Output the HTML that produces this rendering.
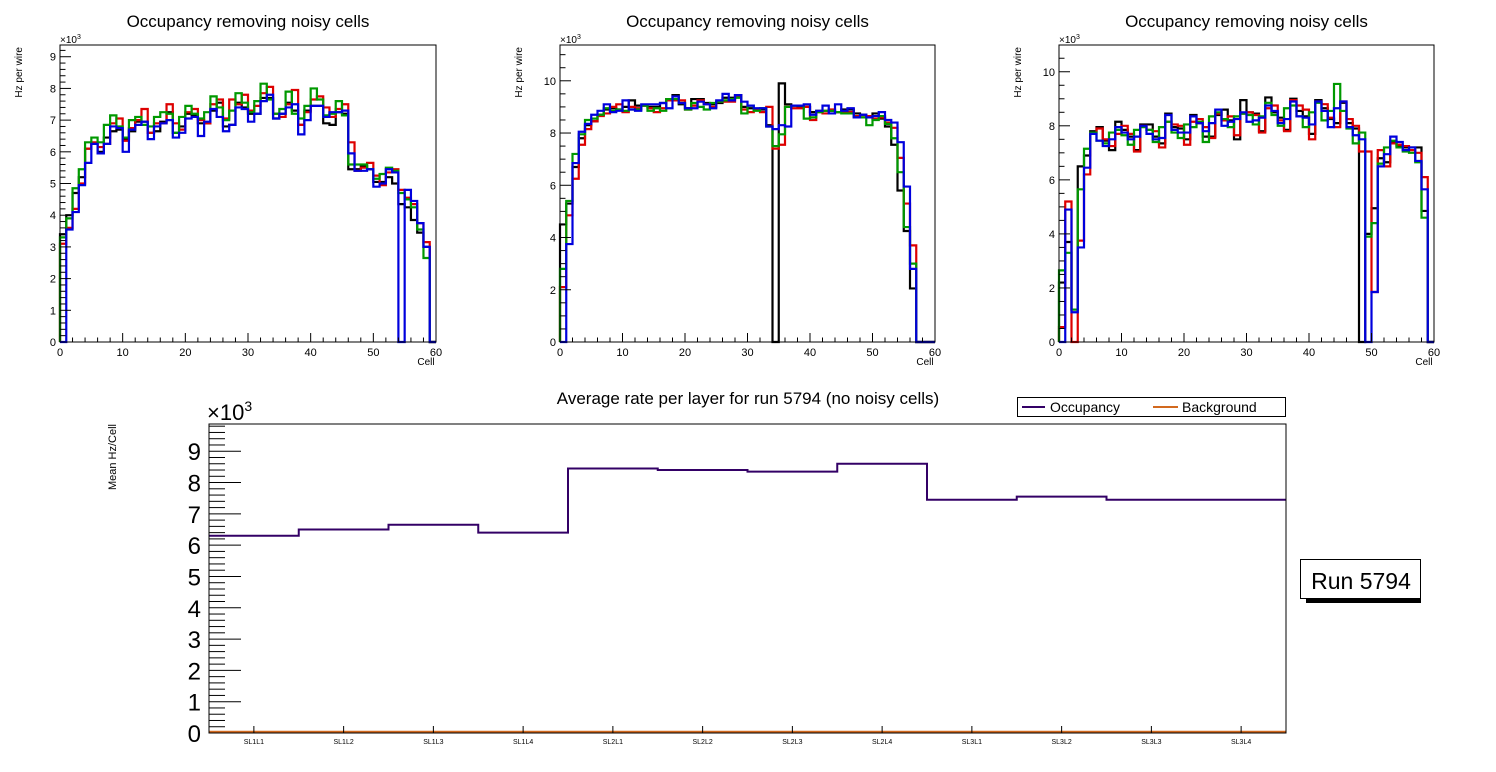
<!DOCTYPE html>
<html><head><meta charset="utf-8">
<style>
html,body{margin:0;padding:0;background:#fff;}
svg{display:block;font-family:"Liberation Sans",sans-serif;}
</style></head>
<body>
<svg id="c" width="1496" height="772" viewBox="0 0 1496 772" xmlns="http://www.w3.org/2000/svg"></svg>
<script>
// ---- Data ----
const binCount = 60;
const p1Black = [3.4,4.0,4.7,5.2,6.1,6.25,6.0,6.45,6.65,6.7,6.4,6.65,6.95,6.95,6.6,6.65,6.95,7.25,6.6,6.8,7.2,7.15,6.9,6.9,7.3,7.55,6.8,6.85,7.55,7.4,7.2,7.2,7.7,7.7,7.05,7.2,7.55,7.3,6.85,7.3,7.45,7.45,6.9,6.85,7.25,7.2,5.45,5.45,5.55,5.45,5.05,5.05,5.2,5.0,4.35,4.25,3.85,3.45,3.0,0];
const p1Red = [3.1,3.6,4.2,5.0,6.1,6.3,6.15,6.25,6.9,7.05,6.35,6.75,7.0,7.35,6.6,6.9,6.9,7.5,6.9,6.7,7.25,7.35,7.0,6.9,7.5,7.65,7.05,7.65,7.5,7.8,7.3,7.45,7.85,8.05,7.2,7.1,7.5,7.95,6.85,7.25,7.65,7.75,7.4,7.1,7.35,7.5,6.3,5.4,5.5,5.65,5.25,4.95,5.35,5.45,4.8,4.55,4.35,3.75,3.15,0];
const p1Green = [3.3,3.9,4.85,5.45,6.3,6.45,6.3,6.85,7.15,6.8,6.45,7.0,7.1,6.85,6.8,7.1,7.25,7.2,6.6,7.1,7.45,7.2,7.05,7.25,7.75,7.4,7.0,7.3,7.85,7.55,7.25,7.6,8.15,7.65,7.2,7.35,7.9,7.2,7.05,7.45,8.0,7.65,7.15,7.2,7.6,7.15,5.6,5.6,5.6,5.45,5.15,5.3,5.5,5.4,4.7,4.5,4.25,3.55,2.65,0];
const p1Blue = [0,3.55,4.1,4.95,5.65,6.25,5.95,6.25,6.8,6.75,6.0,6.7,6.85,6.95,6.4,6.8,6.9,7.0,6.45,6.6,7.05,7.1,6.5,6.95,7.35,7.1,6.65,6.85,7.4,7.35,6.95,7.2,7.6,7.8,7.05,7.2,7.4,7.5,6.55,7.0,7.45,7.45,7.1,7.25,7.25,7.3,5.95,5.4,5.4,5.45,4.9,5.0,5.45,5.35,0,4.8,4.45,3.75,3.0,0];

const p2Black = [4.5,5.3,6.7,7.8,8.3,8.45,8.7,8.9,8.95,8.9,9.0,9.25,9.05,9.05,9.0,9.0,9.15,9.3,9.45,9.1,8.95,9.3,9.3,9.15,9.1,9.15,9.35,9.35,9.45,9.0,8.95,8.9,8.9,8.3,0,9.9,9.1,9.05,9.0,9.0,8.8,8.85,8.85,8.85,8.8,8.9,8.9,8.75,8.7,8.6,8.75,8.55,8.25,7.55,5.8,4.25,2.05,0,0,0];
const p2Red = [2.1,4.85,6.25,7.55,8.15,8.45,8.65,8.75,9.0,9.1,8.8,9.0,8.95,9.05,8.95,8.8,8.95,9.25,9.25,9.25,8.9,9.05,9.25,9.1,9.0,9.2,9.2,9.2,9.4,8.9,8.8,8.9,8.8,9.0,7.4,7.55,9.0,8.95,8.95,9.0,8.5,8.8,8.75,8.9,8.8,8.8,8.8,8.65,8.6,8.65,8.55,8.6,8.4,8.2,7.05,5.3,3.7,0,0,0];
const p2Green = [2.8,5.4,7.2,7.95,8.5,8.55,8.7,8.95,8.85,8.9,8.85,8.9,8.9,9.05,8.85,8.95,8.85,9.3,9.3,9.15,8.9,9.15,9.0,8.9,9.15,9.2,9.25,9.3,9.35,8.75,9.05,8.85,8.95,8.25,7.5,7.95,9.0,9.05,9.05,8.55,8.6,8.8,8.85,8.85,8.8,8.75,8.75,8.6,8.6,8.3,8.5,8.65,8.35,7.8,6.5,4.4,3.0,0,0,0];
const p2Blue = [0,3.75,6.85,8.05,8.35,8.7,8.85,9.1,8.8,8.85,9.25,8.9,8.85,9.1,9.1,9.1,9.15,8.95,9.4,9.15,8.95,8.95,9.2,9.1,8.95,9.25,9.5,9.25,9.45,9.2,9.05,8.95,8.95,8.25,8.15,8.3,8.25,9.05,9.05,9.1,8.7,8.85,9.05,8.75,9.1,8.85,8.95,8.6,8.7,8.6,8.65,8.8,8.5,8.4,7.65,5.95,2.8,0,0,0];

const p3Black = [2.2,3.7,1.2,6.5,6.9,7.8,7.95,7.45,7.1,8.15,7.85,7.6,7.1,8.05,8.05,7.6,7.35,8.45,7.95,7.9,7.5,8.4,8.1,7.6,7.6,8.4,8.6,8.2,7.5,8.95,8.5,8.45,7.8,9.05,8.5,8.3,7.85,9.0,8.55,8.35,7.7,8.95,8.65,8.25,8.1,8.85,8.1,7.9,0,4.0,4.95,6.8,6.65,7.4,7.25,7.2,7.2,7.2,4.85,0];
const p3Red = [0.55,5.2,0,3.75,6.2,7.75,7.9,7.5,7.25,7.7,8.0,7.7,7.05,8.0,7.85,7.8,7.2,8.15,8.05,8.0,7.3,8.15,8.25,7.95,7.55,8.45,8.2,8.35,7.65,8.45,8.5,8.4,7.75,8.65,8.75,8.2,7.8,8.95,8.75,8.6,7.5,8.9,8.8,8.3,7.95,8.9,8.25,8.0,7.05,7.05,1.85,7.1,6.5,7.35,7.3,7.25,7.1,7.0,6.1,0];
const p3Green = [2.65,3.3,1.2,5.65,7.15,7.75,7.45,7.35,7.75,7.85,7.65,7.3,7.85,7.95,7.85,7.4,7.95,8.15,7.75,7.55,8.05,7.95,8.15,7.4,8.35,8.5,8.25,7.95,8.35,8.45,8.4,8.05,8.35,8.85,8.4,8.0,8.65,8.75,8.35,7.95,8.5,8.85,8.2,8.55,9.55,8.55,7.9,7.35,7.75,3.9,4.4,6.6,7.2,7.45,7.2,7.05,7.0,6.65,4.6,0];
const p3Blue = [0,4.9,1.1,3.5,6.45,7.7,7.45,7.25,7.5,7.95,7.75,7.5,7.6,8.0,7.7,7.5,7.55,8.4,7.85,7.75,7.75,8.35,8.1,7.8,8.1,8.6,8.0,8.15,8.25,8.5,8.15,8.2,8.3,8.75,8.55,8.1,8.25,8.9,8.35,8.3,8.05,8.9,8.55,7.95,8.65,8.9,7.95,7.65,7.5,0,1.85,6.5,6.95,7.6,7.4,7.1,7.2,6.7,5.65,0];

const layerLabels = ["SL1L1","SL1L2","SL1L3","SL1L4","SL2L1","SL2L2","SL2L3","SL2L4","SL3L1","SL3L2","SL3L3","SL3L4"];
const occupancy = [6.3,6.5,6.65,6.4,8.45,8.4,8.35,8.6,7.45,7.55,7.45,7.45];
const background = [0.03,0.03,0.03,0.03,0.03,0.03,0.03,0.03,0.03,0.03,0.03,0.03];

const p1Ticks = [0,1,2,3,4,5,6,7,8,9];
const p23Ticks = [0,2,4,6,8,10];
const xTicks = [0,10,20,30,40,50,60];
const bottomTicks = [0,1,2,3,4,5,6,7,8,9];

// ---- Drawing ----
const svg = document.getElementById('c');
const NS = 'http://www.w3.org/2000/svg';
function mk(tag, attrs, parent){
  const e = document.createElementNS(NS, tag);
  for (const k in attrs) e.setAttribute(k, attrs[k]);
  (parent||svg).appendChild(e);
  return e;
}
function txt(s, x, y, size, anchor, parent){
  const t = mk('text', {x:x, y:y, 'font-size':size, 'text-anchor':anchor||'start', fill:'#000'}, parent);
  t.textContent = s;
  return t;
}

function histPath(vals, xs, ys){
  let d = 'M' + xs(0) + ' ' + ys(0);
  for (let i=0;i<vals.length;i++){
    d += ' L' + xs(i) + ' ' + ys(vals[i]) + ' L' + xs(i+1) + ' ' + ys(vals[i]);
  }
  d += ' L' + xs(vals.length) + ' ' + ys(0);
  return d;
}

function panel(name, x0, x1, y0, y1, ymax, yTicks, minorStep, series){
  const g = mk('g', {});
  
  
  const xs = v => x0 + (x1-x0)*v/binCount;
  const ys = v => y1 - (y1-y0)*v/ymax;
  const title = txt('Occupancy removing noisy cells', (x0+x1)/2, 27, 17, 'middle', g);
  
  
  const colors = ['#000','#d00','#090','#00d'];
  const snames = ['black-series','red-series','green-series','blue-series'];
  series.forEach((s, k) => {
    const p = mk('path', {d: histPath(s, xs, ys), fill:'none', stroke: colors[k], 'stroke-width':2.2}, g);
    
    
  });
  const fr = mk('rect', {x:x0, y:y0, width:x1-x0, height:y1-y0, fill:'none', stroke:'#000', 'stroke-width':1}, g);
  
  
  for (let v=0; v<=ymax+1e-9; v+=minorStep){
    const major = yTicks.some(t => Math.abs(t-v)<1e-6);
    mk('line', {x1:x0, x2:x0+(major?11:5.5), y1:ys(v), y2:ys(v), stroke:'#000', 'stroke-width':1}, g);
  }
  yTicks.forEach(t => {
    const l = txt(String(t), x0-4, ys(t)+4, 11, 'end', g);
    
    
  });
  for (let v=0; v<=60; v+=2){
    const major = v%10===0;
    mk('line', {x1:xs(v), x2:xs(v), y1:y1, y2:y1-(major?9:4.5), stroke:'#000', 'stroke-width':1}, g);
  }
  xTicks.forEach(t => {
    const l = txt(String(t), xs(t), y1+14, 11, 'middle', g);
    
    
  });
  const xl = txt('Cell', x1-10, y1+23, 10, 'middle', g);
  
  
  const yl = txt('Hz per wire', 0, 0, 10, 'end', g);
  yl.setAttribute('transform', 'translate(' + (x0-38) + ',' + (y0+2) + ') rotate(-90)');
  
  
  const ex = mk('text', {x:x0, y:y0-2, 'font-size':10, fill:'#000'}, g);
  ex.textContent = '\u00d710';
  const sup = mk('tspan', {dy:-4, 'font-size':7}, ex);
  sup.textContent = '3';
  
  
}

panel('occupancy-panel-1', 60, 436, 45, 342, 9.37, p1Ticks, 0.2, [p1Black,p1Red,p1Green,p1Blue]);
panel('occupancy-panel-2', 560, 935, 45, 342, 11.37, p23Ticks, 0.5, [p2Black,p2Red,p2Green,p2Blue]);
panel('occupancy-panel-3', 1059, 1434, 45, 342, 10.99, p23Ticks, 0.5, [p3Black,p3Red,p3Green,p3Blue]);

// ---- Bottom chart ----
(function(){
  const x0=209, x1=1286, y0=424, y1=733, ymax=9.87;
  const n = layerLabels.length;
  const g = mk('g', {});
  
  
  const xs = i => x0 + (x1-x0)*i/n;
  const ys = v => y1 - (y1-y0)*v/ymax;
  const t = txt('Average rate per layer for run 5794 (no noisy cells)', 748, 404, 17, 'middle', g);
  
  
  function step(vals){
    let d = 'M' + xs(0) + ' ' + ys(vals[0]);
    for (let i=0;i<vals.length;i++){
      d += ' L' + xs(i) + ' ' + ys(vals[i]) + ' L' + xs(i+1) + ' ' + ys(vals[i]);
    }
    return d;
  }
  const bg = mk('path', {d: step(background), fill:'none', stroke:'#d2691e', 'stroke-width':2.5}, g);
  
  
  const oc = mk('path', {d: step(occupancy), fill:'none', stroke:'#330066', 'stroke-width':2}, g);
  
  
  const fr = mk('rect', {x:x0, y:y0, width:x1-x0, height:y1-y0, fill:'none', stroke:'#000', 'stroke-width':1}, g);
  
  
  for (let v=0; v<=ymax+1e-9; v+=0.2){
    const major = Math.abs(v-Math.round(v))<1e-6;
    mk('line', {x1:x0, x2:x0+(major?32:16), y1:ys(v), y2:ys(v), stroke:'#000', 'stroke-width':1}, g);
  }
  bottomTicks.forEach(v => {
    const l = txt(String(v), x0-8, ys(v)+9, 24, 'end', g);
    
    
  });
  layerLabels.forEach((s,i) => {
    const cx = (xs(i)+xs(i+1))/2;
    mk('line', {x1:cx, x2:cx, y1:y1, y2:y1-7, stroke:'#000', 'stroke-width':1}, g);
    const l = txt(s, cx, y1+11, 7, 'middle', g);
    
    
  });
  const ex = mk('text', {x:x0-2, y:y0-4, 'font-size':22, fill:'#000'}, g);
  ex.textContent = '\u00d710';
  const sup = mk('tspan', {dy:-9, 'font-size':14}, ex);
  sup.textContent = '3';
  
  
  const yl = txt('Mean Hz/Cell', 0, 0, 11, 'end', g);
  yl.setAttribute('transform', 'translate(116,424) rotate(-90)');
  
  

  const lg = mk('g', {}, g);
  
  
  mk('rect', {x:1017.5, y:397.5, width:268, height:19, fill:'#fff', stroke:'#000', 'stroke-width':1}, lg);
  mk('line', {x1:1022, x2:1045, y1:407, y2:407, stroke:'#330066', 'stroke-width':2}, lg);
  const l1 = txt('Occupancy', 1050, 412, 14, 'start', lg);
  
  
  mk('line', {x1:1153, x2:1178, y1:407, y2:407, stroke:'#d2691e', 'stroke-width':2}, lg);
  const l2 = txt('Background', 1182, 412, 14, 'start', lg);
  
  

  const rb = mk('g', {});
  
  
  mk('rect', {x:1306, y:598, width:115, height:5, fill:'#000'}, rb);
  mk('rect', {x:1300.5, y:559.5, width:120, height:39, fill:'#fff', stroke:'#000', 'stroke-width':1}, rb);
  txt('Run 5794', 1361, 589, 23, 'middle', rb);
})();
</script>
</body></html>
